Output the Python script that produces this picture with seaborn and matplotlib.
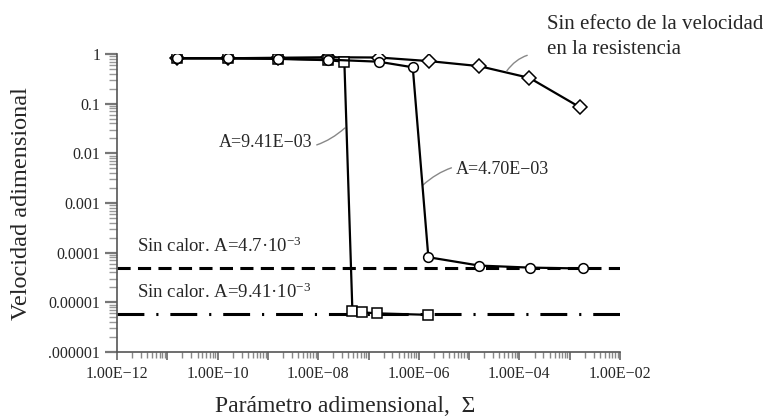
import numpy as np
import pandas as pd
import matplotlib
matplotlib.use("Agg")
import matplotlib.pyplot as plt
import matplotlib.ticker as mticker
import seaborn as sns

# ---- data (log10 of Sigma, velocity) ----
diam_x = [-10.8, -9.8, -8.8, -7.8, -6.8, -5.8, -4.8, -3.8, -2.8]
diam_y = [0.82, 0.82, 0.84, 0.86, 0.85, 0.72, 0.57, 0.33, 0.085]

circ_x = [-10.8, -9.8, -8.8, -7.8, -6.8, -6.12, -5.81, -4.8, -3.79, -2.74]
circ_y = [0.82, 0.82, 0.80, 0.77, 0.70, 0.54, 8.1e-5, 5.5e-5, 5.0e-5, 4.8e-5]

sq_x = [-10.8, -9.8, -8.8, -7.8, -7.48, -7.32, -7.12, -6.84, -5.81]
sq_y = [0.82, 0.82, 0.80, 0.75, 0.70, 6.6e-6, 6.3e-6, 6.0e-6, 5.6e-6]

noheat_47 = 4.8e-5
noheat_941 = 5.8e-6

x_ticks_exp = [-12, -10, -8, -6, -4, -2]
x_tick_labels = ["1.00E\u221212", "1.00E\u221210", "1.00E\u221208",
                 "1.00E\u221206", "1.00E\u221204", "1.00E\u221202"]
y_ticks = [1e-6, 1e-5, 1e-4, 1e-3, 1e-2, 1e-1, 1]
y_tick_labels = [".000001", "0.00001", "0.0001", "0.001", "0.01", "0.1", "1"]

sns.set_style("ticks")
plt.rcParams["font.family"] = ["Liberation Serif", "DejaVu Serif"]
plt.rcParams["mathtext.fontset"] = "custom"
plt.rcParams["mathtext.rm"] = "Liberation Serif"
plt.rcParams["mathtext.it"] = "Liberation Serif:italic"

fig = plt.figure(figsize=(7.63, 4.19), dpi=100)
ax = fig.add_axes([117 / 763, 1 - 352 / 419, 503 / 763, 298 / 419])
ax.set_xscale("log")
ax.set_yscale("log")
ax.set_xlim(1e-12, 1e-2)
ax.set_ylim(1e-6, 1)

# reference lines
ax.axhline(noheat_47, color="black", lw=2.2, dashes=(4.3, 2.4), zorder=1)
ax.axhline(noheat_941, color="black", lw=2.2, dashes=(8.8, 3.9, 0.7, 3.9), zorder=1)

def series(xs, ys, marker, z):
    df = pd.DataFrame({"x": [10.0 ** v for v in xs], "y": ys})
    sns.lineplot(data=df, x="x", y="y", ax=ax, sort=False, estimator=None,
                 color="black", lw=1.6, marker=marker, markersize=7,
                 markerfacecolor="white", markeredgecolor="black",
                 markeredgewidth=1.1, zorder=z)

series(diam_x, diam_y, "D", 3)
series(sq_x, sq_y, "s", 4)
series(circ_x, circ_y, "o", 5)

# axes styling
for s in ["top", "right"]:
    ax.spines[s].set_visible(False)
for s in ["left", "bottom"]:
    ax.spines[s].set_color("#555555")
    ax.spines[s].set_linewidth(1.2)

all_exp = list(range(-12, -1))
ax.set_xticks([10.0 ** e for e in all_exp],
              labels=[x_tick_labels[x_ticks_exp.index(e)] if e in x_ticks_exp else ""
                      for e in all_exp])
ax.xaxis.set_minor_locator(mticker.LogLocator(base=10, subs=np.arange(2, 10), numticks=30))
ax.xaxis.set_minor_formatter(mticker.NullFormatter())
ax.set_yticks(y_ticks, labels=y_tick_labels)
ax.yaxis.set_minor_locator(mticker.LogLocator(base=10, subs=np.arange(2, 10), numticks=30))
ax.yaxis.set_minor_formatter(mticker.NullFormatter())

ax.tick_params(axis="x", which="both", bottom=True, top=False)
ax.tick_params(axis="y", which="both", left=True, right=False)
ax.tick_params(axis="x", which="major", direction="out", length=6, width=1.2,
               color="#666666", labelsize=11.5, pad=4)
ax.tick_params(axis="x", which="minor", direction="out", length=4, width=1.0, color="#888888")
ax.tick_params(axis="y", which="major", direction="out", length=9, width=1.6,
               color="#777777", labelsize=11.5, pad=3)
ax.tick_params(axis="y", which="minor", direction="out", length=6, width=1.0, color="#999999")
ax.set_xlabel("")
ax.set_ylabel("")

fig.text(345 / 763, 1 - 406 / 419, "Par\u00e1metro adimensional,  \u03a3",
         ha="center", va="center", fontsize=17)
fig.text(22 / 763, 1 - 204 / 419, "Velocidad adimensional",
         ha="center", va="center", rotation=90, fontsize=17.5)

# annotations
ax.text(10 ** -11.6, 10 ** -3.88, "Sin calor. A=4.7\u00b710$^{-3}$",
        ha="left", va="center", fontsize=13.5)
ax.text(10 ** -11.6, 10 ** -4.79, "Sin calor. A=9.41\u00b710$^{-3}$",
        ha="left", va="center", fontsize=13.5)

arrow = dict(arrowstyle="-", color="#888888", lw=1.0, shrinkA=1, shrinkB=0)
ax.annotate("A=9.41E\u221203", xy=(10 ** -7.47, 10 ** -1.49),
            xytext=(10 ** -8.12, 10 ** -1.79), ha="right", va="center",
            fontsize=13,
            arrowprops=dict(arrow, connectionstyle="arc3,rad=0.3"))
ax.annotate("A=4.70E\u221203", xy=(10 ** -5.92, 10 ** -2.64),
            xytext=(10 ** -5.26, 10 ** -2.33), ha="left", va="center",
            fontsize=13,
            arrowprops=dict(arrow, connectionstyle="arc3,rad=0.3"))
ax.annotate("Sin efecto de la velocidad\nen la resistencia",
            xy=(10 ** -4.25, 10 ** -0.34), xytext=(10 ** -3.45, 10 ** 0.34),
            ha="left", va="center", fontsize=15, linespacing=1.45,
            arrowprops=dict(arrow, connectionstyle="arc3,rad=0.3",
                            relpos=(0.0, 0.12), shrinkA=12),
            annotation_clip=False)

fig.savefig("out.png", dpi=100)
